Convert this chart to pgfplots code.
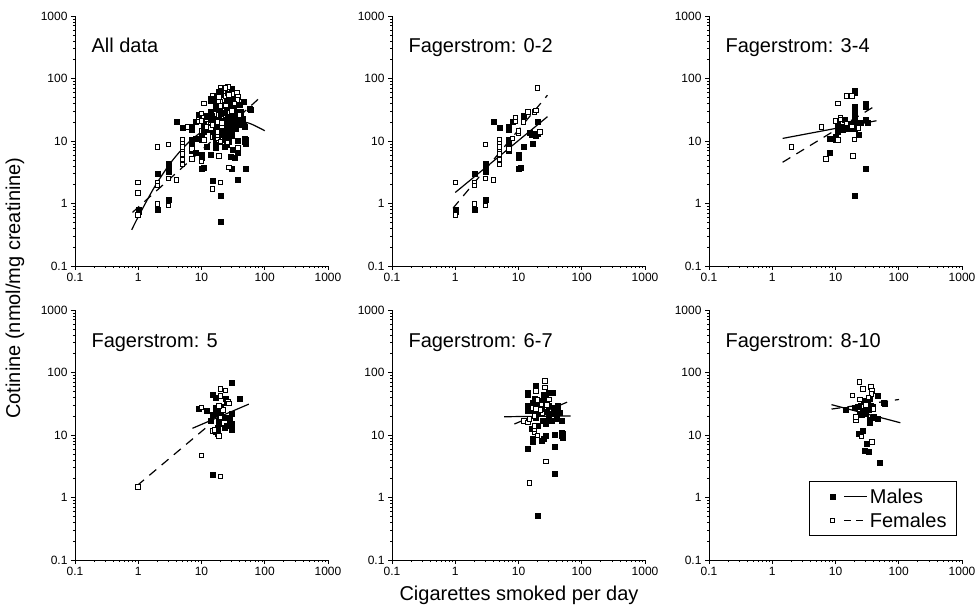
\documentclass[border=0pt]{standalone}
\usepackage{fontspec}
\setmainfont{Liberation Sans}
\usepackage{pgfplots}
\usepackage{pgfplotstable}
\usepgfplotslibrary{groupplots}
\pgfplotsset{compat=1.18}

\newcommand{\bigfont}{\fontsize{20}{24}\selectfont}
\newcommand{\tickfont}{\fontsize{12}{14}\selectfont}

% Fagerstrom 0-2
\pgfplotstableread{
x y
1 0.80
1 0.74
2 3.05
2 0.79
3 4.3
3 3.7
3 3.2
3 1.14
4 20.3
5 16.3
7 17
7 15
7 10.4
7 9.5
7 8.5
7 7
8 20.4
10 6.0
10 5.4
10 3.6
11 3.7
12 25.4
12 8.1
15 13.7
16 12.5
17 13.2
17 9.2
19 12.2
20 20.4
20 13
}\tblMaleA
\pgfplotstableread{
x y
1 2.16
1 0.66
2 2.16
2 1.94
2 0.98
3 8.8
3 2.5
3 0.93
4 2.4
5 10.4
5 9.0
5 8.1
5 6.7
5 6.2
5 5.1
5 4.2
7 7.5
8 11
9 23.8
9 20.4
10 13.3
10 14.5
12 20
14 29
18 29
20 71
22 14
19 31
}\tblFemA
% Fagerstrom 3-4
\pgfplotstableread{
x y
20 65
20 60
30 40
30 35
20 35
20 31
20 27
20 24
20 21
20 18
30 21.6
32 20
11 18
11 15.5
11 14
13 15
14 22
15 18
16 16
20 16
23 12.8
10 11.7
10 10.6
8 11
8 6.6
30 3.6
20 1.34
12 17
25 20
18 19
}\tblMaleB
\pgfplotstableread{
x y
15 52.5
18 52.5
11 40
12 23.8
10 21
6 16.9
18 17
23 16
11 10.4
20 10.6
2 8
7 5.2
19 5.8
12 22
15 19
}\tblFemB
% Fagerstrom 5
\pgfplotstableread{
x y
30 69
15 44
40 37.5
24 37.6
17 40
9 26.6
12 24.4
17 27.6
17 22
19 17
19 15
14 16.9
30 21.7
28 16.9
30 15
25 14
23 12.9
30 12
17 11.3
18 10.4
15 2.3
20 28
25 33
15 21
22 19
18 13
20 24
28 19
}\tblMaleC
\pgfplotstableread{
x y
1 1.46
10 4.7
20 2.16
20 54
24 52
20 42
26 34.5
27 32
10 27.6
19 9.7
15 11.7
20 19
22 25
16 12
19 29
}\tblFemC
% Fagerstrom 6-7
\pgfplotstableread{
x y
20 0.52
37 2.45
14 6
37 6.6
17 8.6
17 7.7
23 8.1
25 8.6
27 9.8
37 10
48 11
48 9.8
19 61.5
14 48
14 44
30 48
35 48
42 26
42 29
48 16.9
17 33
19 31
21 29.4
24 35
27 40
30 29
37 21.6
30 19
24 16.9
27 15
34 16.9
45 23
17 24.4
16 12.5
19 19
21 21.6
14 24.4
14 30
25 45
36 27
40 18
23 25
28 24
33 22
50 10.4
50 9
20 14
18 38
}\tblMaleD
\pgfplotstableread{
x y
15 1.7
27 3.75
12.3 16.9
14 16
26 73
26 57.6
19 51
20 36
23 31
18 11
18 12.5
18 14
17 27
24 22
30 37
18 20
22 25
15 18
20 9.8
28 30
19 26
}\tblFemD
% Fagerstrom 8-10
\pgfplotstableread{
x y
49 3.66
29 5.6
33 5.5
31 7.2
23.6 10.4
27 11.8
14.4 25.3
47 42
57 33
60 32
35 16
35 17.5
38 19
47 18
40 20
22 28
25 30
27 24
30 27
33 25
28 35
35 38
24 22
30 22
38 28
20 27
26 21
36 29
32 31
}\tblMaleE
\pgfplotstableread{
x y
24 71
27 54
36 59
38 51
37 45
18.6 43
21 17.5
21 19.5
25.7 9.5
38 7.8
28 28.6
24.4 37
40 26
30 30
33 40
}\tblFemE

\tikzset{
  malept/.style={only marks, mark=square*, mark size=2.5pt, mark options={draw=black, fill=black, line width=0.3pt}},
  femalept/.style={only marks, mark=square*, mark size=2.3pt, mark options={draw=black, fill=white, line width=0.9pt}},
  mline/.style={black, line width=1.2pt},
  fline/.style={black, line width=1.2pt, dash pattern=on 9pt off 7pt},
  ptitle/.style={anchor=base west, font=\bigfont, xshift=13pt, yshift=-37pt},
}

\begin{document}
\begin{tikzpicture}
\begin{groupplot}[
    group style={group size=3 by 2, horizontal sep=64pt, vertical sep=44pt},
    width=253pt, height=250pt, scale only axis,
    xmode=log, ymode=log,
    xmin=0.1, xmax=1000, ymin=0.1, ymax=1000,
    axis x line*=bottom, axis y line*=left,
    axis line style={-, line width=0.8pt},
    tick align=outside,
    major tick length=4pt, minor tick length=2pt,
    tick style={black, line width=0.6pt},
    xtick={0.1,1,10,100,1000}, xticklabels={0.1,1,10,100,1000},
    ytick={0.1,1,10,100,1000}, yticklabels={0.1,1,10,100,1000},
    minor xtick={0.2,0.3,0.4,0.5,0.6,0.7,0.8,0.9,2,3,4,5,6,7,8,9,20,30,40,50,60,70,80,90,200,300,400,500,600,700,800,900},
    minor ytick={0.2,0.3,0.4,0.5,0.6,0.7,0.8,0.9,2,3,4,5,6,7,8,9,20,30,40,50,60,70,80,90,200,300,400,500,600,700,800,900},
    ticklabel style={font=\tickfont},
  ]
% All data
\nextgroupplot
\coordinate (TL) at (rel axis cs:0,1);
\addplot[malept] table {\tblMaleA};
\addplot[femalept] table {\tblFemA};
\addplot[malept] table {\tblMaleB};
\addplot[femalept] table {\tblFemB};
\addplot[malept] table {\tblMaleC};
\addplot[femalept] table {\tblFemC};
\addplot[malept] table {\tblMaleD};
\addplot[femalept] table {\tblFemD};
\addplot[malept] table {\tblMaleE};
\addplot[femalept] table {\tblFemE};
\addplot[mline, no marks, smooth] coordinates {(0.79,0.38) (1,0.614) (1.78,1.79) (3.16,4.31) (5.62,8.55) (10,14.0) (17.8,18.9) (31.6,21.0) (56.2,19.3) (100,14.6)};
\addplot[fline, no marks] coordinates {(0.81,0.72) (81,47.8)};
\node[ptitle] at (rel axis cs:0,1) {All data};
% 0-2
\nextgroupplot
\addplot[malept] table {\tblMaleA};
\addplot[femalept] table {\tblFemA};
\addplot[mline, no marks] coordinates {(1,1.5) (28.7,24.5)};
\addplot[fline, no marks] coordinates {(0.92,0.84) (28.7,54)};
\node[ptitle] at (rel axis cs:0,1) {Fagerstrom: 0-2};
% 3-4
\nextgroupplot
\addplot[malept] table {\tblMaleB};
\addplot[femalept] table {\tblFemB};
\addplot[mline, no marks] coordinates {(1.46,11.0) (44.4,21.1)};
\addplot[fline, no marks] coordinates {(1.46,4.57) (41.6,36)};
\node[ptitle] at (rel axis cs:0,1) {Fagerstrom: 3-4};
% 5
\nextgroupplot
\addplot[malept] table {\tblMaleC};
\addplot[femalept] table {\tblFemC};
\addplot[mline, no marks] coordinates {(7.2,12.8) (56,31.2)};
\addplot[fline, no marks] coordinates {(0.96,1.55) (12,13.3)};
\node[ptitle] at (rel axis cs:0,1) {Fagerstrom: 5};
% 6-7
\nextgroupplot
\addplot[malept] table {\tblMaleD};
\addplot[femalept] table {\tblFemD};
\addplot[mline, no marks] coordinates {(5.9,19.6) (66.5,20.2)};
\addplot[fline, no marks] coordinates {(8.6,15) (63,34.5)};
\node[ptitle] at (rel axis cs:0,1) {Fagerstrom: 6-7};
% 8-10
\nextgroupplot[
  legend style={at={(0.98,0.096)}, anchor=south east, draw=black, line width=0.8pt,
    font=\bigfont, inner xsep=8pt, inner ysep=5pt, row sep=4pt},
  legend cell align=left]
\addlegendimage{legend image code/.code={
  \path (-14pt,0pt);
  \filldraw[black, line width=0.3pt] (-2.5pt,-2.5pt) rectangle (2.5pt,2.5pt);
  \draw[black, line width=1.2pt] (12pt,0pt) -- (35pt,0pt);}}
\addlegendentry{Males}
\addlegendimage{legend image code/.code={
  \path (-14pt,0pt);
  \filldraw[draw=black, fill=white, line width=0.9pt] (-2.3pt,-2.3pt) rectangle (2.3pt,2.3pt);
  \draw[black, line width=1.2pt, dash pattern=on 7pt off 5pt] (12pt,0pt) -- (35pt,0pt);}}
\addlegendentry{Females}
\addplot[malept, forget plot] table {\tblMaleE};
\addplot[femalept, forget plot] table {\tblFemE};
\addplot[mline, no marks, forget plot] coordinates {(8.65,30.6) (106,15.7)};
\addplot[fline, no marks, forget plot] coordinates {(8.65,26) (101,37)};
\node[ptitle] at (rel axis cs:0,1) {Fagerstrom: 8-10};
\end{groupplot}
\node[rotate=90, font=\bigfont] at ([xshift=-60pt, yshift=-272pt]TL) {Cotinine (nmol/mg creatinine)};
\node[font=\bigfont] at ([xshift=444pt, yshift=-579pt]TL) {Cigarettes smoked per day};
\pgfresetboundingbox
\path ([xshift=-75pt, yshift=16pt]TL) rectangle ([xshift=901pt, yshift=-596pt]TL);
\end{tikzpicture}
\end{document}
